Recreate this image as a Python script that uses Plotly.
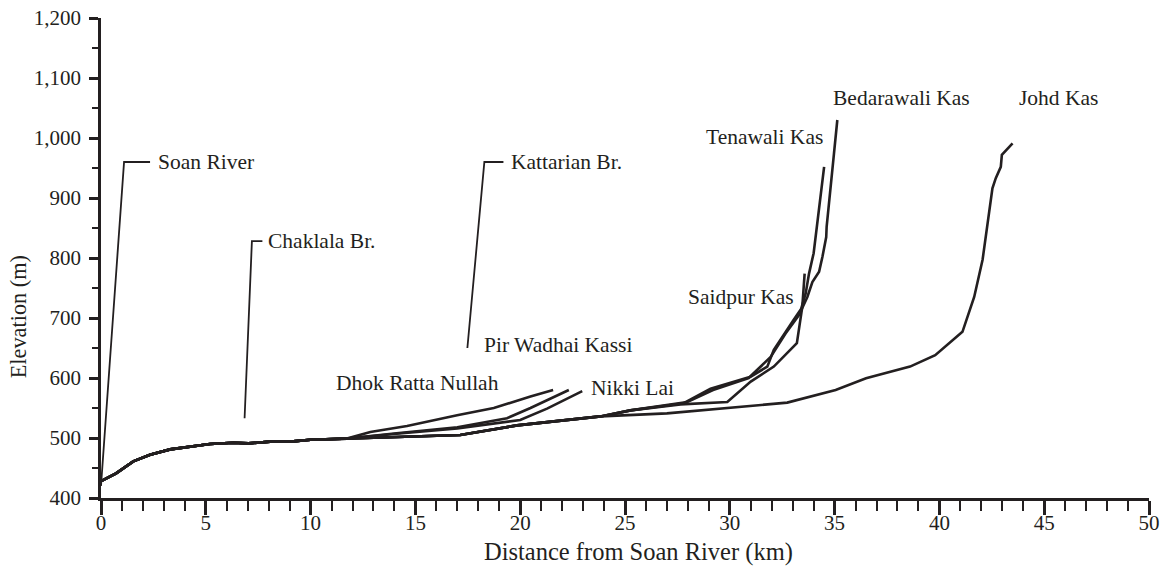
import plotly.graph_objects as go

# Shared lower course from the Soan River confluence (km, m)
trunk_km = [0.0, 0.72, 1.54, 2.34, 3.3, 4.25, 5.2, 6.32, 7.03, 8.07, 9.03, 10.0, 11.73]
trunk_m = [428, 441, 461, 472, 481, 486, 490, 492, 491, 494, 494, 497, 499]

# Tributary profiles beyond the shared course
dhok_km = [12.85, 14.6, 16.99, 18.74, 20.49, 21.57]
dhok_m = [510, 520, 538, 550, 569, 580]

pir_km = [14.1, 17.0, 19.37, 20.49, 22.32]
pir_m = [508, 518, 533, 550, 580]

nikki_km = [14.1, 17.0, 20.0, 21.28, 22.96]
nikki_m = [507, 516, 530, 549, 578]

# Lower route shared by the eastern streams
east_km = [13.0, 17.14, 19.85, 23.83]
east_m = [500, 505, 521, 536]

saidpur_km = [25.26, 27.65, 29.88, 31.0, 32.1, 33.2, 33.46, 33.57]
saidpur_m = [546, 556, 560, 594, 619, 658, 719, 774]

tenawali_km = [25.26, 27.8, 29.08, 30.99, 31.79, 32.1, 33.05, 33.4, 33.62, 33.78, 34.0, 34.1, 34.34, 34.5]
tenawali_m = [546, 558, 582, 602, 619, 647, 697, 715, 741, 774, 808, 835, 902, 952]

bedarawali_km = [25.26, 27.97, 29.2, 30.9, 31.95, 32.66, 33.3, 33.7, 33.94, 34.26, 34.42, 34.6, 34.62, 34.81, 34.97, 35.13]
bedarawali_m = [546, 560, 580, 600, 635, 674, 705, 735, 760, 777, 802, 835, 852, 913, 974, 1030]

johd_km = [27.0, 30.0, 32.74, 35.05, 36.5, 38.6, 39.8, 41.1, 41.66, 42.06, 42.3, 42.53, 42.69, 42.93, 42.98, 43.49]
johd_m = [541, 550, 559, 580, 599.5, 619, 638, 677, 735, 797, 858, 916, 933, 952, 972, 991]

# Leader lines for point labels (bridges and confluence)
soan_lead_km = [0.0, 1.1, 2.34]
soan_lead_m = [420, 960, 960]
chaklala_lead_km = [6.85, 7.2, 7.7]
chaklala_lead_m = [533, 828, 828]
kattarian_lead_km = [17.48, 18.29, 19.2]
kattarian_lead_m = [650, 960, 960]

# Label text and anchor positions (km, m)
label_text = ["Soan River", "Chaklala Br.", "Kattarian Br.", "Pir Wadhai Kassi",
              "Dhok Ratta Nullah", "Nikki Lai", "Saidpur Kas", "Tenawali Kas",
              "Bedarawali Kas", "Johd Kas"]
label_km = [2.6, 7.85, 19.45, 18.17, 11.1, 23.28, 27.9, 28.77, 34.83, 43.72]
label_m = [960, 828, 960, 655, 592, 583, 735, 1002, 1067, 1067]

INK = "#231f20"
FONT = "Liberation Serif"

streams = [
    ("Dhok Ratta Nullah", trunk_km + dhok_km, trunk_m + dhok_m),
    ("Pir Wadhai Kassi", trunk_km + pir_km, trunk_m + pir_m),
    ("Nikki Lai", trunk_km + nikki_km, trunk_m + nikki_m),
    ("Saidpur Kas", trunk_km + east_km + saidpur_km, trunk_m + east_m + saidpur_m),
    ("Tenawali Kas", trunk_km + east_km + tenawali_km, trunk_m + east_m + tenawali_m),
    ("Bedarawali Kas", trunk_km + east_km + bedarawali_km, trunk_m + east_m + bedarawali_m),
    ("Johd Kas", trunk_km + east_km + johd_km, trunk_m + east_m + johd_m),
]

fig = go.Figure()
for name, xs, ys in streams:
    fig.add_trace(go.Scatter(x=xs, y=ys, mode="lines", name=name,
                             line=dict(color=INK, width=2.6), hoverinfo="skip"))

for xs, ys in [(soan_lead_km, soan_lead_m), (chaklala_lead_km, chaklala_lead_m),
               (kattarian_lead_km, kattarian_lead_m)]:
    fig.add_trace(go.Scatter(x=xs, y=ys, mode="lines",
                             line=dict(color=INK, width=1.8), hoverinfo="skip"))

for t, xk, ym in zip(label_text, label_km, label_m):
    fig.add_annotation(x=xk, y=ym, text=t, showarrow=False, xanchor="left",
                       yanchor="middle", font=dict(family=FONT, size=21.5, color=INK))

# Axis titles placed as paper-referenced text
fig.add_annotation(x=0.513, y=-0.113, xref="paper", yref="paper",
                   text="Distance from Soan River (km)", showarrow=False,
                   xanchor="center", yanchor="middle",
                   font=dict(family=FONT, size=24.5, color=INK))
fig.add_annotation(x=-0.079, y=0.377, xref="paper", yref="paper",
                   text="Elevation (m)", showarrow=False, textangle=-90,
                   xanchor="center", yanchor="middle",
                   font=dict(family=FONT, size=22.3, color=INK))

fig.update_layout(
    width=1166, height=567,
    margin=dict(l=101, r=17, t=18, b=69),
    paper_bgcolor="white", plot_bgcolor="white",
    showlegend=False,
    font=dict(family=FONT, size=21, color=INK),
)
fig.update_xaxes(
    range=[0, 50], dtick=5, tick0=0, showgrid=False, zeroline=False, automargin=False,
    showline=True, linecolor=INK, linewidth=2.5,
    ticks="outside", ticklen=14, tickwidth=2.5, tickcolor=INK,
    minor=dict(dtick=1, ticks="outside", ticklen=10, tickwidth=2.2, tickcolor=INK, showgrid=False),
    ticklabelstandoff=-10,
    tickfont=dict(family=FONT, size=21, color=INK),
)
fig.update_yaxes(
    range=[400, 1200], dtick=100, tick0=400, tickformat=",d", showgrid=False, zeroline=False,
    automargin=False,
    showline=True, linecolor=INK, linewidth=2.5,
    ticks="outside", ticklen=9, tickwidth=2.5, tickcolor=INK,
    minor=dict(dtick=50, ticks="outside", ticklen=6, tickwidth=2.2, tickcolor=INK, showgrid=False),
    ticklabelstandoff=4,
    tickfont=dict(family=FONT, size=21, color=INK),
)

fig.write_html("out.html")
